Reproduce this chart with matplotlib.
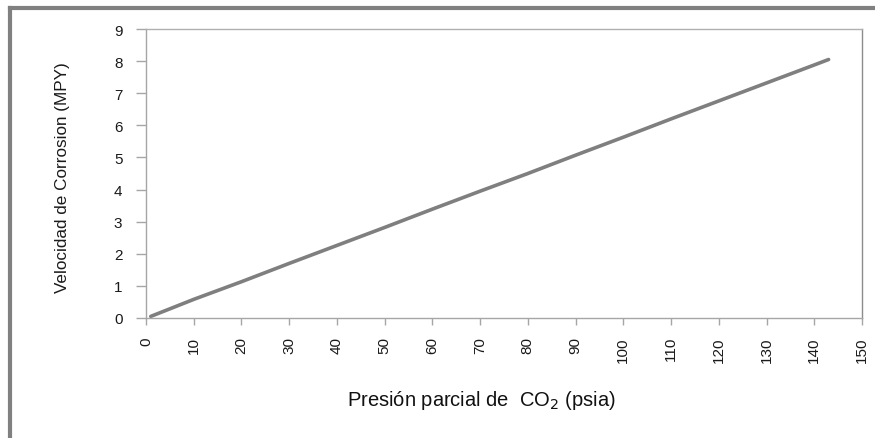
import matplotlib
matplotlib.use("Agg")
import matplotlib.pyplot as plt
from matplotlib.lines import Line2D

# Data
presion = [1, 10, 20, 30, 40, 50, 60, 70, 80, 90, 100, 110, 120, 130, 140, 143]
velocidad = [0.05, 0.58, 1.13, 1.70, 2.26, 2.82, 3.39, 3.95, 4.50, 5.07, 5.63, 6.20, 6.76, 7.32, 7.88, 8.05]
xticks = list(range(0, 151, 10))
yticks = list(range(0, 10))

plt.rcParams['font.family'] = ['Liberation Sans', 'DejaVu Sans']

fig = plt.figure(figsize=(8.75, 4.39), dpi=100)
ax = fig.add_axes([146/875, 1 - 319/439, (862-146)/875, (319-30)/439])

ax.plot(presion, velocidad, color='#7f7f7f', lw=2.6, solid_capstyle='round')
ax.set_xlim(0, 150)
ax.set_ylim(0, 9)
ax.set_xticks(xticks)
ax.set_yticks(yticks)
ax.set_xticklabels([str(t) for t in xticks], rotation=90, fontsize=11)
ax.set_yticklabels([str(t) for t in yticks], fontsize=11)
for s in ax.spines.values():
    s.set_color('#a6a6a6')
    s.set_linewidth(1.0)
ax.spines['right'].set_color('#8c8c8c')
ax.spines['top'].set_color('#b0b0b0')
ax.tick_params(axis='both', colors='#a6a6a6', labelcolor='#1a1a1a', width=1, direction='out')
ax.tick_params(axis='y', length=7, pad=10)
ax.tick_params(axis='x', length=5, pad=8)
fig.text(62/875, 1 - 178/439, 'Velocidad de Corrosion (MPY)', rotation=90,
         ha='center', va='center', fontsize=12.3, color='#1a1a1a')
fig.text(481/875, 1 - 401/439, 'Presión parcial de  CO$_2$ (psia)', ha='center', va='center',
         fontsize=14.5, color='#111111')

# outer gray frame lines (top and left)
fig.add_artist(Line2D([10/875, 1], [1 - 9/439, 1 - 9/439], transform=fig.transFigure, color='#808080', lw=3))
fig.add_artist(Line2D([10/875, 10/875], [0, 1 - 9/439], transform=fig.transFigure, color='#808080', lw=3))

fig.savefig('out.png', dpi=100)
